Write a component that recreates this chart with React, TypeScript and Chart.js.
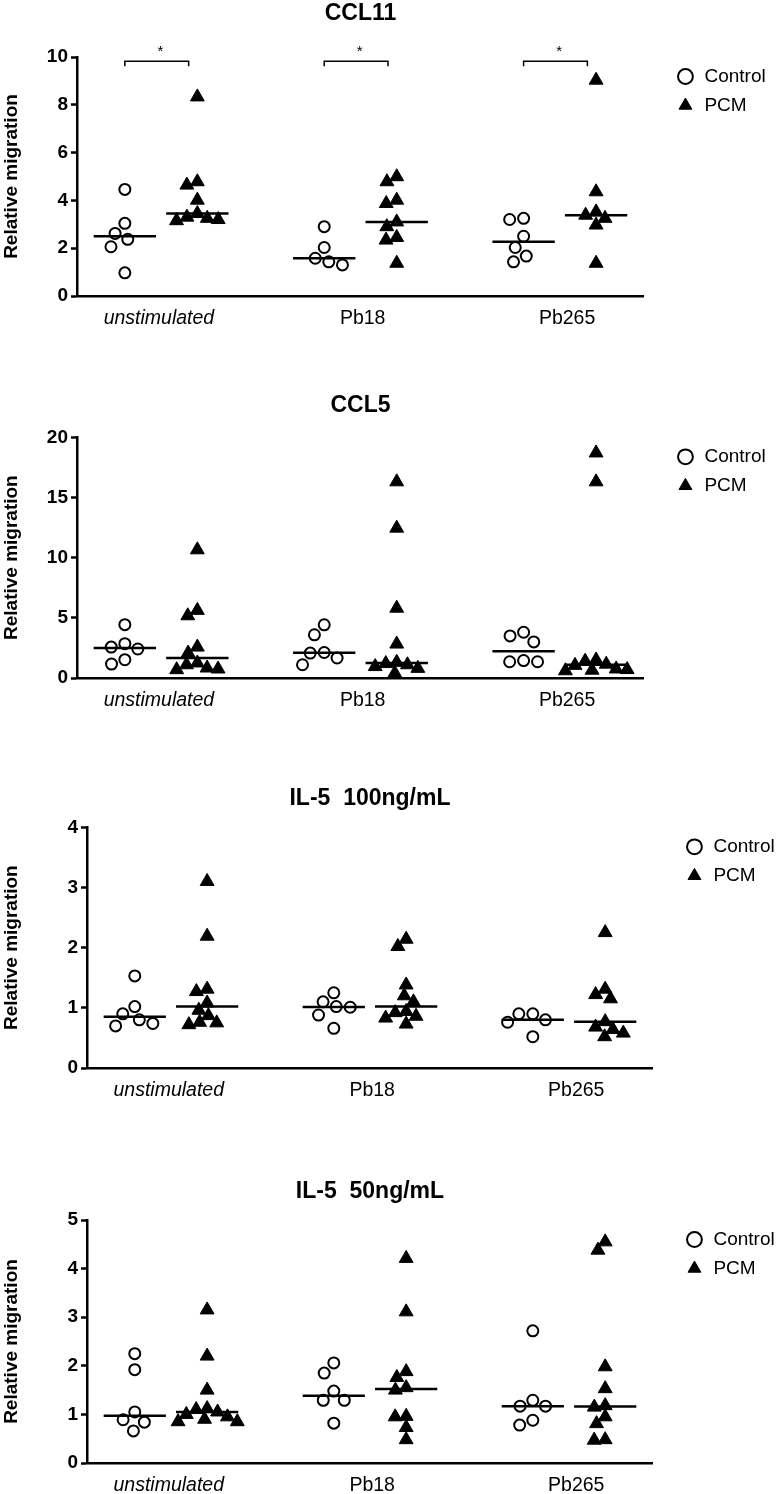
import React, { useEffect, useRef } from 'react';
import { Chart, registerables } from 'chart.js';

Chart.register(...registerables);

const FONT = '"Liberation Sans", Arial, Helvetica, sans-serif';
Chart.defaults.font.family = FONT;
Chart.defaults.color = '#000';

// ---------- data ----------
const categories = ['unstimulated', 'Pb18', 'Pb265'];
const seriesNames = ['Control', 'PCM'];

// CCL11 (per category: unstimulated, Pb18, Pb265)
const ccl11Control = [
  [4.46, 3.04, 2.62, 2.37, 2.06, 0.97],
  [2.9, 2.03, 1.58, 1.3, 1.43],
  [3.25, 3.2, 2.5, 2.03, 1.67, 1.43],
];
const ccl11PCM = [
  [8.33, 4.78, 4.64, 4.01, 3.45, 3.3, 3.2, 3.15, 3.25],
  [4.99, 4.78, 4.01, 3.87, 3.1, 2.9, 2.45, 2.34, 1.37],
  [9.03, 4.36, 3.52, 3.38, 3.25, 2.97, 1.37],
];
const ccl11Sig = ['*', '*', '*'];

// CCL5
const ccl5Control = [
  [4.43, 2.85, 2.57, 2.41, 1.52, 1.16],
  [4.42, 3.59, 2.12, 2.07, 1.66, 1.1],
  [3.8, 3.5, 3.0, 1.45, 1.35, 1.35],
];
const ccl5PCM = [
  [10.65, 5.62, 5.17, 2.57, 2.07, 1.25, 1.1, 0.83, 0.75, 0.69],
  [16.3, 12.45, 5.8, 2.82, 1.3, 1.2, 1.1, 0.95, 0.8, 0.4],
  [18.7, 16.3, 1.5, 1.4, 1.15, 1.05, 0.75, 0.7, 0.65, 0.6],
];

// IL-5 100ng/mL
const il5hControl = [
  [1.53, 1.02, 0.9, 0.8, 0.74, 0.7],
  [1.25, 1.1, 1.02, 1.01, 0.88, 0.66],
  [0.9, 0.9, 0.8, 0.76, 0.52],
];
const il5hPCM = [
  [3.1, 2.19, 1.31, 1.27, 1.08, 0.96, 0.87, 0.76, 0.75, 0.72],
  [2.14, 2.02, 1.38, 1.2, 1.1, 0.94, 0.92, 0.86, 0.83, 0.73],
  [2.25, 1.31, 1.22, 1.15, 0.77, 0.68, 0.64, 0.58, 0.52],
];

// IL-5 50ng/mL
const il5lControl = [
  [2.25, 1.92, 1.05, 0.89, 0.84, 0.66],
  [2.06, 1.85, 1.48, 1.29, 1.29, 0.82],
  [2.72, 1.29, 1.17, 1.17, 0.88, 0.78],
];
const il5lPCM = [
  [3.15, 2.2, 1.5, 1.12, 1.1, 1.05, 1.0, 0.95, 0.9, 0.85, 0.85],
  [4.21, 3.11, 1.88, 1.76, 1.55, 1.5, 0.96, 0.95, 0.73, 0.48],
  [4.55, 4.38, 1.98, 1.53, 1.18, 1.15, 0.95, 0.81, 0.48, 0.47],
];

// ---------- layout ----------
const CANVAS_W = 790;
const X_MIN = -0.66;
const X_MAX = 7.16;
const colPos = [
  [0, 2.75, 5.5], // Control columns
  [1, 3.75, 6.5], // PCM columns
];
const catTickPos = [0.47, 3.28, 6.1];
const MEDIAN_HALF = 0.43;

interface PanelSpec {
  title: string;
  control: number[][];
  pcm: number[][];
  yMax: number;
  yStep: number;
  sig?: string[];
  top: number;
  height: number;
  yWidth: number;
  titleGap: number;
  padRight: number;
}

const panels: PanelSpec[] = [
  { title: 'CCL11', control: ccl11Control, pcm: ccl11PCM, yMax: 10, yStep: 2, sig: ccl11Sig, top: 0, height: 327, yWidth: 77, titleGap: 29.4, padRight: 14.3 },
  { title: 'CCL5', control: ccl5Control, pcm: ccl5PCM, yMax: 20, yStep: 5, top: 392, height: 317, yWidth: 77, titleGap: 17.7, padRight: 14.3 },
  { title: 'IL-5  100ng/mL', control: il5hControl, pcm: il5hPCM, yMax: 4, yStep: 1, top: 785, height: 314, yWidth: 87, titleGap: 14.7, padRight: 5.3 },
  { title: 'IL-5  50ng/mL', control: il5lControl, pcm: il5lPCM, yMax: 5, yStep: 1, top: 1178, height: 316, yWidth: 87, titleGap: 14.4, padRight: 5.3 },
];

function median(arr: number[]): number {
  const s = [...arr].sort((a, b) => a - b);
  const n = s.length;
  return n % 2 ? s[(n - 1) / 2] : (s[n / 2 - 1] + s[n / 2]) / 2;
}

// place a point as close to the column centre as possible without overlapping
function placeOffset(placed: { x: number; y: number }[], py: number, d: number): number {
  const intervals: [number, number][] = [];
  for (const p of placed) {
    const dy = Math.abs(p.y - py);
    if (dy < d) {
      const w = Math.sqrt(d * d - dy * dy);
      intervals.push([p.x - w, p.x + w]);
    }
  }
  const cands = [0];
  intervals.forEach(([a, b]) => cands.push(a, b));
  cands.sort((u, v) => Math.abs(u) - Math.abs(v) || u - v);
  for (const c of cands) {
    if (intervals.every(([a, b]) => c <= a + 1e-6 || c >= b - 1e-6)) return c;
  }
  return 0;
}

function applySwarm(chart: any) {
  const xs = chart.scales.x;
  const ys = chart.scales.y;
  [0, 1].forEach((si) => {
    const ds = chart.data.datasets[si];
    const d = si === 0 ? 14 : 11;
    const pts = ds.data as any[];
    for (let c = 0; c < categories.length; c++) {
      const group = pts.filter((p) => p.col === c).sort((a, b) => b.v - a.v);
      const cx = xs.getPixelForValue(colPos[si][c]);
      const placed: { x: number; y: number }[] = [];
      group.forEach((pt) => {
        const py = ys.getPixelForValue(pt.v);
        const off = placeOffset(placed, py, d);
        placed.push({ x: off, y: py });
        pt.x = xs.getValueForPixel(cx + off);
      });
    }
  });
  chart.update();
}

const starPlugin = {
  id: 'sigStars',
  afterDatasetsDraw(chart: any, _args: any, opts: any) {
    const items = opts && opts.items;
    if (!items || !items.length) return;
    const ctx = chart.ctx;
    ctx.save();
    ctx.fillStyle = '#000';
    ctx.font = `15px ${FONT}`;
    ctx.textAlign = 'center';
    ctx.textBaseline = 'middle';
    items.forEach((it: any) => {
      ctx.fillText(it.text, chart.scales.x.getPixelForValue(it.x), chart.scales.y.getPixelForValue(it.y));
    });
    ctx.restore();
  },
};

function buildConfig(p: PanelSpec): any {
  const seriesData = [p.control, p.pcm];
  const datasets: any[] = [];
  seriesData.forEach((series, si) => {
    const data: any[] = [];
    series.forEach((vals, c) => vals.forEach((v) => data.push({ x: colPos[si][c], y: v, col: c, v })));
    datasets.push({
      type: 'scatter',
      label: seriesNames[si],
      data,
      yAxisID: 'y',
      order: 1,
      clip: false,
      pointStyle: si === 0 ? 'circle' : 'triangle',
      pointRadius: si === 0 ? 5.5 : 8,
      pointBorderWidth: si === 0 ? 2 : 1,
      pointBackgroundColor: si === 0 ? 'rgba(0,0,0,0)' : '#000',
      pointBorderColor: '#000',
      backgroundColor: si === 0 ? 'rgba(0,0,0,0)' : '#000',
      borderColor: '#000',
      borderWidth: si === 0 ? 2 : 1,
      showLine: false,
    });
  });
  // median lines
  seriesData.forEach((series, si) => {
    series.forEach((vals, c) => {
      const m = median(vals);
      datasets.push({
        type: 'line',
        label: `median ${si}-${c}`,
        data: [
          { x: colPos[si][c] - MEDIAN_HALF, y: m },
          { x: colPos[si][c] + MEDIAN_HALF, y: m },
        ],
        yAxisID: 'y',
        order: 0,
        borderColor: '#000',
        borderWidth: 2.5,
        pointRadius: 0,
        fill: false,
      });
    });
  });
  // significance brackets
  const starItems: any[] = [];
  if (p.sig) {
    const yTop = p.yMax * 0.982;
    const yLow = p.yMax * 0.961;
    p.sig.forEach((s, c) => {
      if (!s) return;
      const x1 = colPos[0][c];
      const x2 = colPos[1][c] - 0.12;
      datasets.push({
        type: 'line',
        label: `sig ${c}`,
        data: [
          { x: x1, y: yLow },
          { x: x1, y: yTop },
          { x: x2, y: yTop },
          { x: x2, y: yLow },
        ],
        yAxisID: 'y',
        order: 0,
        borderColor: '#000',
        borderWidth: 1.5,
        pointRadius: 0,
        fill: false,
        clip: false,
      });
      starItems.push({ text: s, x: (x1 + x2) / 2 + 0.05, y: p.yMax * 1.02 });
    });
  }

  return {
    type: 'scatter',
    data: { datasets },
    plugins: [starPlugin],
    options: {
      responsive: false,
      animation: false,
      events: [],
      layout: { padding: { left: 0, right: p.padRight, top: 0, bottom: 0 } },
      plugins: {
        tooltip: { enabled: false },
        sigStars: { items: starItems },
        title: {
          display: true,
          text: p.title,
          fullSize: false,
          color: '#000',
          font: { family: FONT, size: 23, weight: 'bold' },
          padding: { top: 0, bottom: p.titleGap },
        },
        legend: {
          display: true,
          position: 'right',
          align: 'start',
          fullSize: false,
          labels: {
            usePointStyle: true,
            boxWidth: 19,
            boxHeight: 10.5,
            padding: 10,
            color: '#000',
            font: { family: FONT, size: 19 },
            filter: (item: any) => item.datasetIndex < 2,
          },
        },
      },
      scales: {
        x: {
          type: 'linear',
          position: 'bottom',
          min: X_MIN,
          max: X_MAX,
          afterBuildTicks: (s: any) => {
            s.ticks = catTickPos.map((v) => ({ value: v }));
          },
          afterFit: (s: any) => {
            s.height = 31;
          },
          ticks: {
            autoSkip: false,
            maxRotation: 0,
            padding: 11,
            color: '#000',
            font: (ctx: any) => ({ family: FONT, size: 19.5, style: ctx.index === 0 ? 'italic' : 'normal' }),
            callback: (_v: any, i: number) => categories[i],
          },
          grid: { display: false, drawTicks: false },
          border: { display: true, color: '#000', width: 2.5 },
        },
        y: {
          type: 'linear',
          position: 'left',
          min: 0,
          max: p.yMax,
          afterFit: (s: any) => {
            s.width = p.yWidth;
          },
          ticks: {
            stepSize: p.yStep,
            padding: 3,
            color: '#000',
            font: { family: FONT, size: 19, weight: 'bold' },
          },
          grid: {
            display: true,
            drawOnChartArea: false,
            drawTicks: true,
            tickLength: 6,
            tickWidth: 2.5,
            tickColor: '#000',
          },
          border: { display: true, color: '#000', width: 2.5 },
          title: {
            display: true,
            text: 'Relative migration',
            color: '#000',
            font: { family: FONT, size: 19, weight: 'bold' },
            padding: 0,
          },
        },
        spacer: {
          type: 'linear',
          position: 'right',
          display: true,
          grid: { display: false, drawTicks: false },
          border: { display: false },
          ticks: { display: false },
          afterFit: (s: any) => {
            s.width = 22;
          },
        },
      },
    },
  };
}

function PanelChart({ p }: { p: PanelSpec }) {
  const ref = useRef<HTMLCanvasElement>(null);
  useEffect(() => {
    const canvas = ref.current;
    if (!canvas) return;
    const chart = new Chart(canvas, buildConfig(p));
    applySwarm(chart);
    return () => chart.destroy();
  }, [p]);
  return (
    <canvas
      ref={ref}
      width={CANVAS_W}
      height={p.height}
      style={{ position: 'absolute', left: 0, top: p.top, width: CANVAS_W, height: p.height }}
    />
  );
}

export default function App() {
  return (
    <div
      style={{
        position: 'absolute',
        left: 0,
        top: 0,
        width: 782,
        height: 1494,
        overflow: 'hidden',
        background: '#fff',
      }}
    >
      {panels.map((p) => (
        <PanelChart key={p.title} p={p} />
      ))}
    </div>
  );
}
